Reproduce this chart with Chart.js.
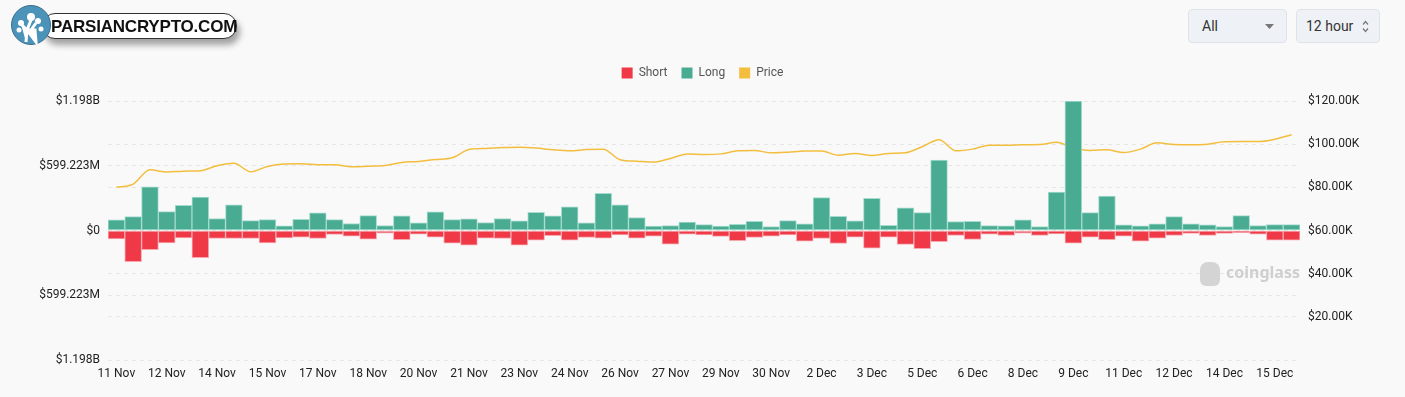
<!DOCTYPE html>
<html>
<head>
<meta charset="utf-8">
<script src="https://cdn.jsdelivr.net/npm/chart.js@4.4.1/dist/chart.umd.min.js"></script>
<style>
  html, body { margin: 0; padding: 0; background: #f9f9f9; }
  body { width: 1405px; height: 397px; position: relative; overflow: hidden; font-family: Roboto, "Noto Sans", sans-serif; }
  #wrap { position: absolute; left: 0; top: 0; width: 1405px; height: 397px; }
  .logo { position: absolute; left: 11px; top: 5px; height: 40px; width: 230px; }
  .pill { position: absolute; left: 31px; top: 8px; width: 195px; height: 26px; background: #fff; border: 1px solid #333; border-radius: 14px;
          box-shadow: 3px 6px 6px rgba(0,0,0,0.35); font: bold 17px "Liberation Sans", Arial, sans-serif; color: #111; line-height: 25px; padding-left: 8px; box-sizing: border-box; letter-spacing: -0.2px; }
  .circle { position: absolute; left: 0; top: 0; width: 38px; height: 38px; border-radius: 50%; background: #4b93b8; border: 1px solid #3a6f8c; }
  .sel { position: absolute; top: 9px; height: 34px; background: #eef1f5; border: 1px solid #dfe3e8; border-radius: 4px; box-sizing: border-box;
         font: 14px Roboto, sans-serif; color: #333; line-height: 32px; }
  .wm { position: absolute; left: 1200px; top: 261px; color: #cfcfcf; font: bold 16px "Noto Sans", sans-serif; }
</style>
</head>
<body>
<div id="wrap"><canvas id="miGrafico" width="1405" height="397"></canvas></div>

<div class="logo">
  <div class="pill">PARSIANCRYPTO.COM</div>
  <div class="circle">
    <svg width="38" height="38" viewBox="0 0 38 38">
      <path d="M14 36 L15 24 L9 18 M15 24 L19 14 M19 24 L24 17 M15 24 L23 24 L24 36 Z" stroke="#fff" stroke-width="3" fill="#fff"/>
      <circle cx="9" cy="17" r="3" fill="#fff"/><circle cx="19" cy="11" r="4" fill="#fff"/>
      <circle cx="26" cy="15" r="3" fill="#fff"/><circle cx="7" cy="24" r="2.5" fill="#fff"/>
      <circle cx="29" cy="23" r="2.5" fill="#fff"/>
    </svg>
  </div>
</div>

<div class="sel" style="left:1188px;width:99px;padding-left:13px;">All
  <svg style="position:absolute;right:12px;top:14px;" width="9" height="5"><path d="M0 0 L9 0 L4.5 5 Z" fill="#777"/></svg></div>
<div class="sel" style="left:1296px;width:84px;padding-left:9px;">12 hour
  <svg style="position:absolute;right:10px;top:10px;" width="7" height="13"><path d="M1 4.5 L3.5 1.5 L6 4.5 M1 8.5 L3.5 11.5 L6 8.5" stroke="#777" stroke-width="1.2" fill="none"/></svg></div>

<div class="wm"><span style="display:inline-block;width:20px;height:24px;background:#d4d4d4;border-radius:8px 8px 6px 6px;vertical-align:middle;margin-right:6px;"></span>coinglass</div>

<script>
// 12-hour buckets, 11 Nov 00:00 -> 16 Dec 00:00
const labels = [];
for (let i = 0; i < 71; i++) {
  const day = 11 + Math.floor(i / 2);
  labels.push(day <= 30 ? day + ' Nov' : (day - 30) + ' Dec');
}

// liquidations, millions USD
const longVals = [98, 129, 405, 175, 233, 310, 111, 237, 92, 101, 43, 104, 163, 101, 65, 138, 46, 135, 71, 172,
  101, 108, 74, 111, 89, 169, 135, 218, 71, 344, 237, 120, 40, 46, 77, 55, 40, 58, 86, 37,
  92, 61, 304, 132, 89, 298, 49, 209, 166, 651, 83, 86, 46, 43, 98, 37, 356, 1198.446, 166, 319,
  52, 43, 61, 129, 61, 52, 37, 138, 46, 55, 55];
const shortVals = [-77, -289, -178, -114, -68, -252, -74, -74, -74, -114, -68, -61, -74, -37, -52, -80, -25, -86, -34, -61,
  -117, -135, -71, -74, -135, -89, -49, -89, -65, -71, -40, -71, -52, -126, -34, -40, -55, -95, -65, -52,
  -40, -98, -74, -120, -61, -163, -61, -129, -169, -104, -46, -83, -34, -46, -25, -46, -31, -117, -61, -86,
  -52, -98, -71, -46, -28, -46, -28, -21, -34, -89, -89];
// BTC price, thousands USD
const priceVals = [80.0, 81.5, 88.1, 87.1, 87.5, 87.7, 90.0, 91.2, 87.2, 89.7, 90.8, 90.9, 90.5, 90.5, 89.5, 89.8, 90.1, 91.5, 92.0, 92.9,
  93.7, 97.5, 98.0, 98.4, 98.6, 98.2, 97.4, 96.9, 97.5, 97.7, 92.8, 92.1, 91.7, 93.4, 95.5, 95.2, 95.5, 96.9, 97.1, 96.0,
  96.3, 96.8, 96.8, 94.9, 95.7, 94.7, 95.7, 96.0, 98.8, 102.1, 96.9, 97.7, 99.5, 99.5, 99.7, 99.8, 100.9, 98.2, 97.1, 97.4,
  96.1, 97.7, 100.6, 99.8, 99.7, 100.0, 101.1, 101.2, 101.2, 102.3, 104.4];

const leftMax = 1198.446;
const leftTicks = [-leftMax, -leftMax / 2, 0, leftMax / 2, leftMax];
const rightTicks = [0, 20, 40, 60, 80, 100, 120];

function fmtLeft(v) {
  const a = Math.abs(v);
  if (a < 0.001) return '$0';
  if (a >= 1000) return '$' + (a / 1000).toFixed(3) + 'B';
  return '$' + a.toFixed(3) + 'M';
}

const tickFont = { family: 'Roboto, "Noto Sans", sans-serif', size: 12 };
const gridStyle = { color: '#e6e6e6', drawTicks: false, lineWidth: 1 };

// extra gap under the legend
const legendGap = {
  id: 'legendGap',
  beforeInit(chart) {
    const origFit = chart.legend.fit;
    chart.legend.fit = function () {
      origFit.bind(chart.legend)();
      this.height += 12;
    };
  }
};

document.addEventListener('DOMContentLoaded', function () {
  const ctx = document.getElementById('miGrafico').getContext('2d');
  new Chart(ctx, {
    type: 'bar',
    data: {
      labels: labels,
      datasets: [{
        label: 'Short',
        data: shortVals,
        backgroundColor: '#ef3946',
        borderColor: '#f6a9b1',
        borderWidth: 1,
        borderSkipped: false,
        yAxisID: 'y',
        order: 1,
      }, {
        label: 'Long',
        data: longVals,
        backgroundColor: '#4aab93',
        borderColor: '#a4dccd',
        borderWidth: 1,
        borderSkipped: false,
        yAxisID: 'y',
        order: 1,
      }, {
        type: 'line',
        label: 'Price',
        data: priceVals,
        borderColor: '#f3be3e',
        backgroundColor: '#f3be3e',
        borderWidth: 1.5,
        pointRadius: 0,
        tension: 0.4,
        cubicInterpolationMode: 'monotone',
        yAxisID: 'y1',
        order: 2,
      }]
    },
    plugins: [legendGap],
    options: {
      responsive: false,
      animation: false,
      barPercentage: 1,
      categoryPercentage: 1,
      layout: { padding: { top: 53, left: 0, right: 0, bottom: 0 } },
      plugins: {
        tooltip: { enabled: false },
        legend: {
          position: 'top',
          labels: {
            boxWidth: 11,
            boxHeight: 11,
            padding: 14,
            color: '#555',
            font: { family: 'Roboto, "Noto Sans", sans-serif', size: 12 },
            generateLabels: function (chart) {
              return chart.data.datasets.map(function (ds, i) {
                return {
                  text: ds.label,
                  fillStyle: ds.backgroundColor,
                  strokeStyle: ds.backgroundColor,
                  lineWidth: 0,
                  fontColor: '#555',
                  datasetIndex: i,
                };
              });
            }
          }
        }
      },
      scales: {
        x: {
          stacked: true,
          grid: { display: false, drawTicks: false },
          border: { display: false },
          ticks: {
            autoSkip: false,
            maxRotation: 0,
            padding: 7,
            color: '#222',
            font: tickFont,
            callback: function (v, i) { return i % 3 === 0 ? labels[i] : ''; }
          },
          afterFit: function (s) { s.height = 37; }
        },
        y: {
          stacked: true,
          position: 'left',
          min: -leftMax,
          max: leftMax,
          grid: gridStyle,
          border: { display: false, dash: [4, 4] },
          ticks: { padding: 8, color: '#222', font: tickFont, callback: fmtLeft },
          afterBuildTicks: function (s) { s.ticks = leftTicks.map(function (v) { return { value: v }; }); },
          afterFit: function (s) { s.width = 108; }
        },
        y1: {
          position: 'right',
          min: 0,
          max: 120,
          grid: gridStyle,
          border: { display: false, dash: [4, 4] },
          ticks: {
            padding: 8, color: '#222', font: tickFont,
            callback: function (v) { return v === 0 ? '' : '$' + v.toFixed(2) + 'K'; }
          },
          afterBuildTicks: function (s) { s.ticks = rightTicks.map(function (v) { return { value: v }; }); },
          afterFit: function (s) { s.width = 105; }
        }
      }
    }
  });
});
</script>
</body>
</html>
